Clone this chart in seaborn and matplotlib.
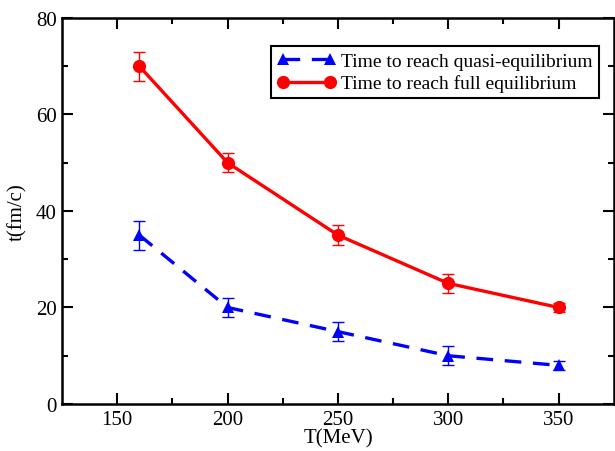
import numpy as np
import pandas as pd
import matplotlib
matplotlib.use("Agg")
import matplotlib.pyplot as plt
import seaborn as sns

# data
T = [160, 200, 250, 300, 350]
t_quasi = [35, 20, 15, 10, 8]
err_quasi = [3, 2, 2, 2, 1]
t_full = [70, 50, 35, 25, 20]
err_full = [3, 2, 2, 2, 1]

lab_quasi = "Time to reach quasi-equilibrium"
lab_full = "Time to reach full equilibrium"

sns.set_style("ticks", {"axes.edgecolor": "black", "xtick.color": "black",
                        "ytick.color": "black", "text.color": "black",
                        "axes.labelcolor": "black"})
plt.rcParams['font.family'] = ['Liberation Serif', 'DejaVu Serif']

df = pd.DataFrame({
    "T": T * 2,
    "t": t_quasi + t_full,
    "err": err_quasi + err_full,
    "series": [lab_quasi] * len(T) + [lab_full] * len(T),
})

fig = plt.figure(figsize=(6.15, 4.52), dpi=100)
ax = fig.add_axes([0.101, 0.104, 0.897, 0.854])

sns.lineplot(data=df[df.series == lab_quasi], x="T", y="t", ax=ax,
             color="#0000ff", marker="^", markersize=9, markeredgewidth=0,
             linewidth=2.4, dashes=False, label=lab_quasi)
ax.lines[-1].set_dashes((5, 3.5))
sns.lineplot(data=df[df.series == lab_full], x="T", y="t", ax=ax,
             color="#ff0000", marker="o", markersize=9.5, markeredgewidth=0,
             linewidth=2.4, label=lab_full)

ax.errorbar(T, t_quasi, yerr=err_quasi, fmt="none", ecolor="#0000ff",
            elinewidth=1, capsize=4, capthick=1)
ax.errorbar(T, t_full, yerr=err_full, fmt="none", ecolor="#ff0000",
            elinewidth=1, capsize=4, capthick=1)

ax.set_xlim(125, 375)
ax.set_ylim(0, 80)
ax.set_xticks([150, 200, 250, 300, 350])
ax.set_xticks([175, 225, 275, 325], minor=True)
ax.set_yticks([0, 20, 40, 60, 80])
ax.set_yticks([10, 30, 50, 70], minor=True)
ax.tick_params(which="both", direction="in", top=True, right=True,
               width=1.5, labelsize=15, pad=4, colors="black")
ax.tick_params(which="major", length=8)
ax.tick_params(which="minor", length=4)
for s in ax.spines.values():
    s.set_linewidth(1.8)
    s.set_color("black")

ax.set_xlabel("T(MeV)", fontsize=15, labelpad=0)
ax.set_ylabel("t(fm/c)", fontsize=15, labelpad=6)

leg = ax.legend(loc="upper right", bbox_to_anchor=(0.973, 0.927), numpoints=2,
                fontsize=14, frameon=True, fancybox=False, framealpha=1,
                edgecolor="black", handlelength=3.0, handletextpad=0.3,
                borderpad=0.3, labelspacing=0.25, borderaxespad=0)
leg.get_frame().set_linewidth(1.5)

fig.savefig("out.png", dpi=100)
